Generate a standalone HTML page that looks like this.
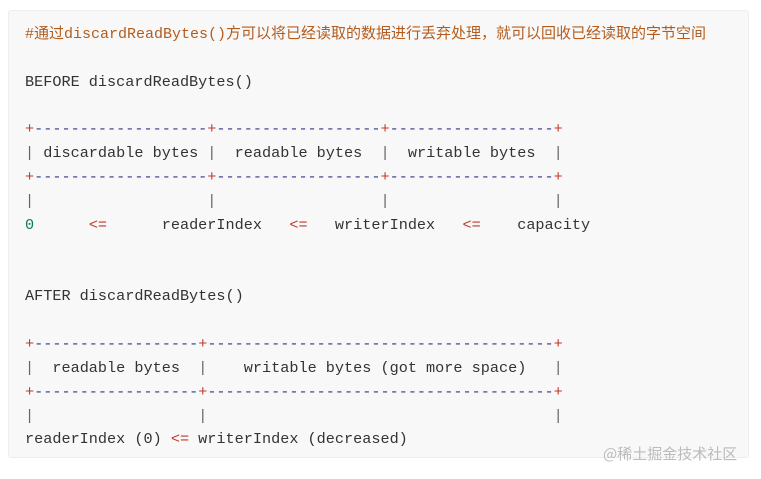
<!DOCTYPE html>
<html><head><meta charset="utf-8"><style>
html,body{margin:0;padding:0;background:#fff;width:761px;height:479px;overflow:hidden}
.box{position:absolute;left:8px;top:10px;width:741px;height:448px;background:#f8f8f8;border:1px solid #eee;border-radius:3px;box-sizing:border-box}
pre{position:absolute;left:25px;top:23px;margin:0;font-family:"Liberation Mono","Noto Sans CJK SC",monospace;font-size:15.2px;line-height:23.85px;color:#333;white-space:pre}
.c{color:#b35c1e;font-size:15px}.p{color:#c0392b}.d{color:#3a3a8c}.v{color:#666}.n{color:#0b7a5c}.o{color:#c0392b}
.wm{position:absolute;left:603px;top:443px;font-family:"Noto Sans CJK SC",sans-serif;font-size:15px;color:#bbb}
</style></head><body>
<div class="box"></div>
<pre><span class="c">#通过discardReadBytes()方可以将已经读取的数据进行丢弃处理，就可以回收已经读取的字节空间</span>

BEFORE discardReadBytes()

<span class="p">+</span><span class="d">-------------------</span><span class="p">+</span><span class="d">------------------</span><span class="p">+</span><span class="d">------------------</span><span class="p">+</span>
<span class="v">|</span> discardable bytes <span class="v">|</span>  readable bytes  <span class="v">|</span>  writable bytes  <span class="v">|</span>
<span class="p">+</span><span class="d">-------------------</span><span class="p">+</span><span class="d">------------------</span><span class="p">+</span><span class="d">------------------</span><span class="p">+</span>
<span class="v">|</span>                   <span class="v">|</span>                  <span class="v">|</span>                  <span class="v">|</span>
<span class="n">0</span>      <span class="o">&lt;=</span>      readerIndex   <span class="o">&lt;=</span>   writerIndex   <span class="o">&lt;=</span>    capacity


AFTER discardReadBytes()

<span class="p">+</span><span class="d">------------------</span><span class="p">+</span><span class="d">--------------------------------------</span><span class="p">+</span>
<span class="v">|</span>  readable bytes  <span class="v">|</span>    writable bytes (got more space)   <span class="v">|</span>
<span class="p">+</span><span class="d">------------------</span><span class="p">+</span><span class="d">--------------------------------------</span><span class="p">+</span>
<span class="v">|</span>                  <span class="v">|</span>                                      <span class="v">|</span>
readerIndex (0) <span class="o">&lt;=</span> writerIndex (decreased)</pre>
<div class="wm">@稀土掘金技术社区</div>
</body></html>
